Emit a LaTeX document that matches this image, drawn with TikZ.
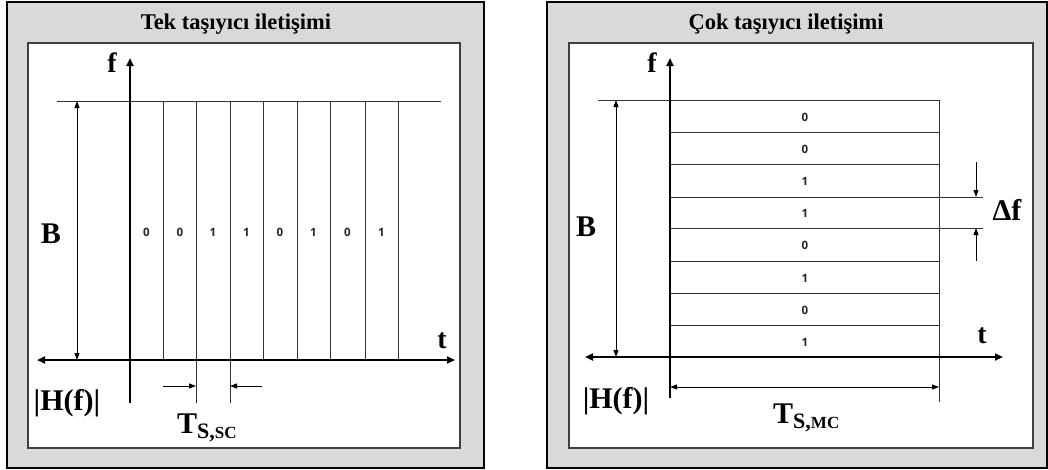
\documentclass[tikz,border=0pt]{standalone}
\usepackage{fontspec}
\setmainfont{Liberation Serif}
\newfontfamily\digitfont{Open Sans}
\usetikzlibrary{arrows.meta}
\begin{document}
\begin{tikzpicture}[x=1pt,y=-1pt,
  panel/.style={draw=black,line width=1.4pt,fill=black!15},
  plotarea/.style={draw=black!75,line width=1.4pt,fill=white},
  axis/.style={line width=2pt,-{Triangle[length=8pt,width=7pt]}},
  biaxis/.style={line width=2pt,{Triangle[length=8pt,width=7pt]}-{Triangle[length=8pt,width=7pt]}},
  thin/.style={line width=1pt,draw=black!80},
  dim/.style={line width=1pt,{Triangle[length=7pt,width=5pt]}-{Triangle[length=7pt,width=5pt]}},
  pointer/.style={line width=1pt,-{Triangle[length=7pt,width=5pt]}},
  title/.style={inner sep=0pt,anchor=base,font=\bfseries\fontsize{22.5}{24}\selectfont},
  lbl/.style={inner sep=0pt,anchor=base,font=\bfseries\fontsize{30}{30}\selectfont},
  axlbl/.style={inner sep=0pt,anchor=base,font=\bfseries\fontsize{28}{30}\selectfont},
  bit/.style={inner sep=0pt,text=black!85,font=\digitfont\bfseries\fontsize{11.5}{12}\selectfont},
]
\useasboundingbox (0,0) rectangle (1048,469);

% ---------------- single carrier ----------------
\path[panel] (7,2) rectangle (484,468);
\path[plotarea] (28,43) rectangle (460,448);
\node[title] (sctitle) at (236,29) {Tek taşıyıcı iletişimi};

\coordinate (scFtop) at (130,58);
\coordinate (scFbot) at (130,403);
\coordinate (scTl) at (37,360);
\coordinate (scTr) at (455,360);
\coordinate (scBl) at (57,101);
\coordinate (scBr) at (441,101);

% symbol boundaries
\foreach \x/\low in {163/360,196/403,230/403,263/360,297/360,330/360,365/360,398/360}
  \draw[thin] (\x,101) -- (\x,\low);
\draw[thin] (scBl) -- (scBr);
\draw[axis] (scFbot) -- (scFtop);
\draw[biaxis] (scTl) -- (scTr);

% bandwidth
\coordinate (scBa) at (77,101);
\coordinate (scBb) at (77,360);
\draw[dim] (scBa) -- (scBb);

% symbol duration
\coordinate (scS1) at (163,386);
\coordinate (scS2) at (196,386);
\coordinate (scS3) at (262,386);
\coordinate (scS4) at (230,386);
\draw[pointer] (scS1) -- (scS2);
\draw[pointer] (scS3) -- (scS4);

\foreach \x/\b [count=\i] in {146.5/0,180/0,213/1,246.5/1,280/0,313.5/1,347.5/0,381.5/1}
  \node[bit] (scbit\i) at (\x,232.5) {\b};

\node[axlbl] (scf) at (112,72) {f};
\node[axlbl] (sct) at (442,348) {t};
\node[lbl] (scB) at (51,243) {B};
\node[lbl] (scH) at (67,410) {|H(f)|};
\node[lbl,anchor=base west] (scTs) at (177,433)
  {T\raisebox{-5pt}{\fontsize{22}{22}\selectfont S,\fontsize{17}{17}\selectfont SC}};

% ---------------- multi carrier ----------------
\path[panel] (547,2) rectangle (1047,468);
\path[plotarea] (569,43) rectangle (1033,448);
\node[title] (mctitle) at (786,29) {Çok taşıyıcı iletişimi};

\coordinate (mcFtop) at (670,58);
\coordinate (mcFbot) at (670,398);
\coordinate (mcTl) at (585,357);
\coordinate (mcTr) at (1003,357);
\coordinate (mcBl) at (598,100);
\coordinate (mcBr) at (939,100);
\coordinate (mcRb) at (939,402);

% subcarrier boundaries
\foreach \y/\right in {132/939,164/939,197/983,228/983,261/939,293/939,325/939}
  \draw[thin] (670,\y) -- (\right,\y);
\draw[thin] (mcBl) -- (mcBr) -- (mcRb);
\draw[axis] (mcFbot) -- (mcFtop);
\draw[biaxis] (mcTl) -- (mcTr);

% bandwidth
\coordinate (mcBa) at (616,100);
\coordinate (mcBb) at (616,357);
\draw[dim] (mcBa) -- (mcBb);

% subcarrier spacing
\coordinate (mcD1) at (976,162);
\coordinate (mcD2) at (976,197);
\coordinate (mcD3) at (976,261);
\coordinate (mcD4) at (976,228);
\draw[pointer] (mcD1) -- (mcD2);
\draw[pointer] (mcD3) -- (mcD4);

% symbol duration
\coordinate (mcS1) at (670,387);
\coordinate (mcS2) at (939,387);
\draw[dim] (mcS1) -- (mcS2);

\foreach \y/\b [count=\i] in {117/0,149/0,181.5/1,213.5/1,245.5/0,278/1,310/0,342/1}
  \node[bit] (mcbit\i) at (805,\y) {\b};

\node[axlbl] (mcf) at (652,72) {f};
\node[axlbl] (mct) at (982,343) {t};
\node[lbl] (mcB) at (586,236) {B};
\node[lbl] (mcH) at (616,408) {|H(f)|};
\node[lbl] (mcDf) at (1007,220) {Δf};
\node[lbl,anchor=base west] (mcTs) at (773,423)
  {T\raisebox{-5pt}{\fontsize{22}{22}\selectfont S,\fontsize{17}{17}\selectfont MC}};
\end{tikzpicture}
\end{document}
